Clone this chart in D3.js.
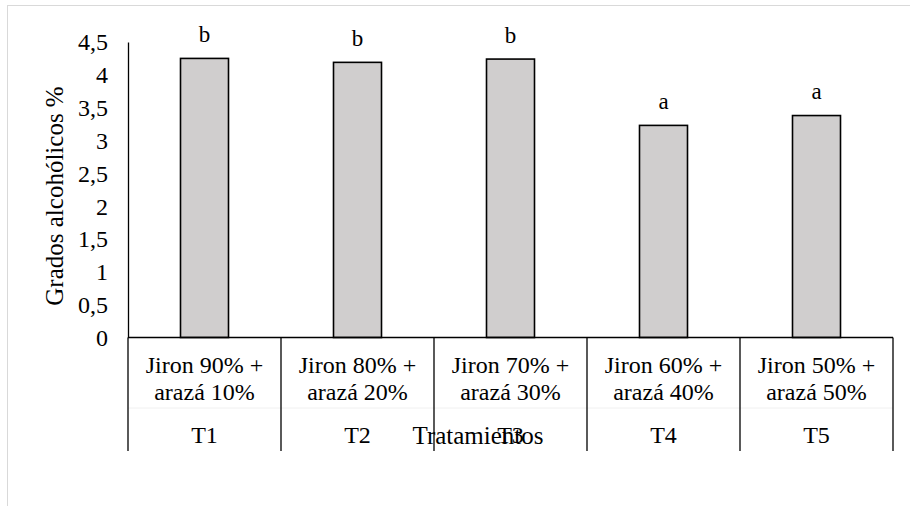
<!DOCTYPE html>
<html><head><meta charset="utf-8">
<script src="https://cdn.jsdelivr.net/npm/d3@7"></script>
<style>body{margin:0;background:#fff}svg{display:block}text{font-family:"Liberation Serif","Times New Roman",serif;fill:#000}</style>
</head><body><svg id="c" width="910" height="506"></svg>
<script>
const codes = ["T1","T2","T3","T4","T5"];
const mixLine1 = ["Jiron 90% +","Jiron 80% +","Jiron 70% +","Jiron 60% +","Jiron 50% +"];
const mixLine2 = ["arazá 10%","arazá 20%","arazá 30%","arazá 40%","arazá 50%"];
const values = [4.25, 4.19, 4.24, 3.23, 3.38];
const letters = ["b","b","b","a","a"];
const yTicks = [0,0.5,1,1.5,2,2.5,3,3.5,4,4.5];
const yTitle = "Grados alcohólicos %";
const xTitle = "Tratamientos";

(function(){
const svg = d3.select("#c");
svg.append("rect").attr("x",7.5).attr("y",5.5).attr("width",920).attr("height",520)
  .attr("fill","#fff").attr("stroke","#d9d9d9");

const pL=128, pR=893, pT=42, pB=337.5;
const x = d3.scaleBand().domain(codes).range([pL,pR]).paddingInner(0).paddingOuter(0);
const y = d3.scaleLinear().domain([0,4.5]).range([pB,pT]);
const bw = 48;

const yAxis = svg.append("g").attr("transform",`translate(${pL},0)`)
  .call(d3.axisLeft(y).tickValues(yTicks).tickSize(0).tickPadding(20)
    .tickFormat(d=>String(d).replace(".",",")));
yAxis.select(".domain").attr("stroke","#000").attr("stroke-width",1.3);
yAxis.selectAll("text").attr("font-size",24).attr("font-family","Liberation Serif").attr("dy","0.33em");

svg.selectAll("rect.bar").data(values).join("rect").attr("class","bar")
  .attr("x",(d,i)=>x(codes[i])+x.bandwidth()/2-bw/2)
  .attr("y",d=>y(d)).attr("width",bw).attr("height",d=>pB-y(d))
  .attr("fill","#d0cece").attr("stroke","#000").attr("stroke-width",1.6);

svg.selectAll("text.lt").data(values).join("text").attr("class","lt")
  .attr("x",(d,i)=>x(codes[i])+x.bandwidth()/2).attr("y",d=>y(d)-16.5)
  .attr("text-anchor","middle").attr("font-size",23).text((d,i)=>letters[i]);

svg.append("line").attr("x1",pL).attr("x2",pR).attr("y1",408).attr("y2",408)
  .attr("stroke","#f0f0f0").attr("stroke-width",1);
svg.append("line").attr("x1",pL).attr("x2",pR).attr("y1",pB).attr("y2",pB)
  .attr("stroke","#000").attr("stroke-width",1.6);
const divs = codes.map(c=>x(c)).concat([pR]);
svg.selectAll("line.dv").data(divs).join("line").attr("class","dv")
  .attr("x1",d=>d).attr("x2",d=>d).attr("y1",pB).attr("y2",451)
  .attr("stroke","#000").attr("stroke-width",1.3);

const g = svg.append("g");
codes.forEach((c,i)=>{
  const cx = x(c)+x.bandwidth()/2;
  g.append("text").attr("x",cx).attr("y",373).attr("text-anchor","middle").attr("font-size",24).text(mixLine1[i]);
  g.append("text").attr("x",cx).attr("y",400).attr("text-anchor","middle").attr("font-size",24).text(mixLine2[i]);
  g.append("text").attr("x",cx).attr("y",443).attr("text-anchor","middle").attr("font-size",24).text(c);
});

svg.append("text").attr("x",478).attr("y",444).attr("text-anchor","middle").attr("font-size",25).text(xTitle);
svg.append("text").attr("transform","translate(63,196) rotate(-90)").attr("text-anchor","middle")
  .attr("font-size",25).text(yTitle);
})();
</script></body></html>
